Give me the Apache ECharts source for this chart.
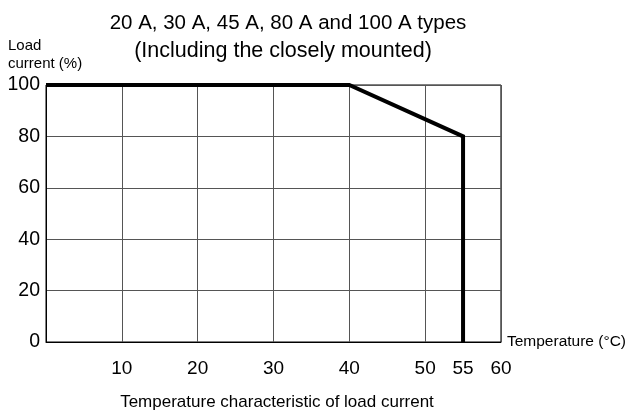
<!DOCTYPE html>
<html>
<head>
<meta charset="utf-8">
<script src="https://cdn.jsdelivr.net/npm/echarts@6/dist/echarts.min.js"></script>
<style>
html,body{margin:0;padding:0;background:#fff;}
#chart{width:629px;height:412px;}
</style>
</head>
<body>
<div id="chart"></div>
<script>
// derating curve: temperature (°C) vs load current (%)
const temperature = [0, 40, 55, 55]
const loadCurrent = [100, 100, 80, 0]
const xLabelValues = [10, 20, 30, 40, 50, 55, 60]

const font = '"Liberation Sans", Arial, sans-serif'
const points = temperature.map((t, i) => [t, loadCurrent[i]])

let myechart = echarts.init(document.getElementById('chart'))
let option = {
  animation: false,
  textStyle: { fontFamily: font, color: '#000' },
  title: [
    {
      text: '20 A, 30 A, 45 A, 80 A and 100 A types',
      left: 283,
      top: 8,
      textAlign: 'center',
      textStyle: { fontFamily: font, fontSize: 20.5, fontWeight: 'normal', color: '#000' }
    },
    {
      text: '(Including the closely mounted)',
      left: 278,
      top: 35,
      textAlign: 'center',
      textStyle: { fontFamily: font, fontSize: 21.5, fontWeight: 'normal', color: '#000' }
    },
    {
      text: 'Load\ncurrent (%)',
      left: 3,
      top: 32,
      textStyle: { fontFamily: font, fontSize: 15, fontWeight: 'normal', color: '#000', lineHeight: 18 }
    },
    {
      text: 'Temperature characteristic of load current',
      left: 272,
      top: 389,
      textAlign: 'center',
      textStyle: { fontFamily: font, fontSize: 17, fontWeight: 'normal', color: '#000' }
    }
  ],
  grid: {
    left: 46, right: 128, top: 85, bottom: 70,
    show: true, borderColor: '#000', borderWidth: 1
  },
  xAxis: {
    type: 'value',
    min: 0, max: 60, interval: 10,
    name: 'Temperature (°C)',
    nameLocation: 'end',
    nameGap: 6,
    nameTextStyle: { fontFamily: font, fontSize: 15.5, color: '#000', verticalAlign: 'middle' },
    axisLine: { lineStyle: { color: '#000', width: 1 } },
    axisTick: { show: false },
    axisLabel: {
      customValues: xLabelValues,
      margin: 17,
      fontSize: 19,
      color: '#000',
      fontFamily: font
    },
    splitLine: { show: true, lineStyle: { color: '#555', width: 1 } }
  },
  yAxis: {
    type: 'value',
    min: 0, max: 100, interval: 20,
    axisLine: { show: true, lineStyle: { color: '#000', width: 1 } },
    axisTick: { show: false },
    axisLabel: { margin: 6, fontSize: 19.5, color: '#000', fontFamily: font },
    splitLine: { show: true, lineStyle: { color: '#555', width: 1 } }
  },
  series: [
    {
      type: 'line',
      data: points,
      showSymbol: false,
      symbol: 'none',
      clip: false,
      lineStyle: { color: '#000', width: 4, join: 'miter' },
      z: 5
    }
  ]
}
myechart.setOption(option)
</script>
</body>
</html>
